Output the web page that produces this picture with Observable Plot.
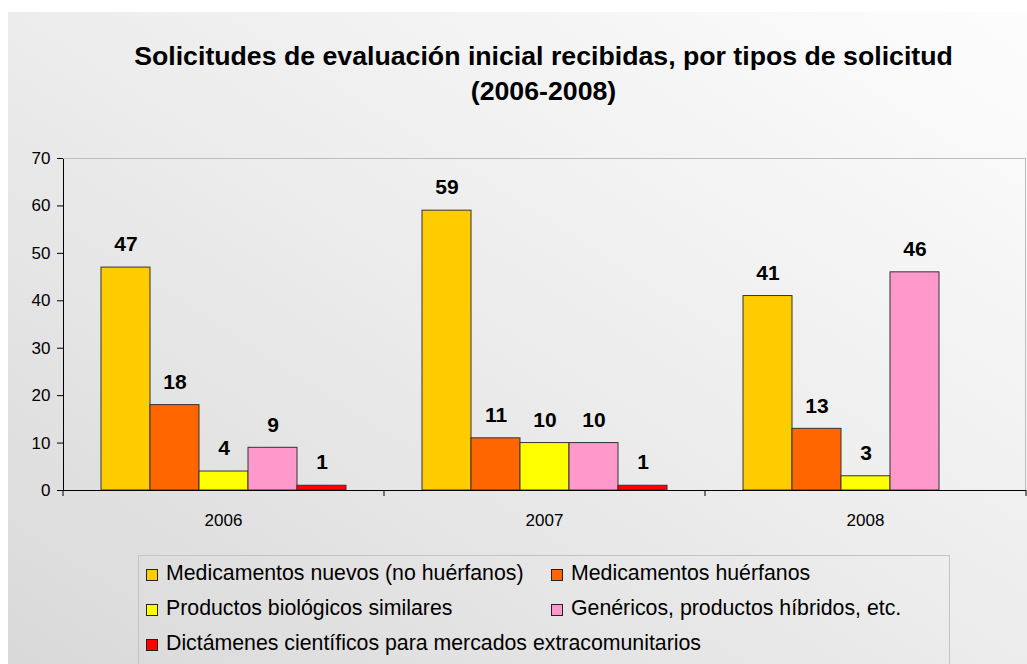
<!DOCTYPE html>
<html>
<head>
<meta charset="utf-8">
<script src="https://cdn.jsdelivr.net/npm/d3@7"></script>
<script src="https://cdn.jsdelivr.net/npm/@observablehq/plot@0.6"></script>
<style>
  html, body { margin: 0; padding: 0; background: #fff; }
  #wrap { position: relative; width: 1027px; height: 664px; overflow: hidden; background: #fff; font-family: "Liberation Sans", Arial, sans-serif; }
  #bg { position: absolute; left: 8px; top: 12px; width: 1019px; height: 652px; background: linear-gradient(to bottom left, #fdfdfd 0%, #ececec 50%, #d9d9d9 100%); }
  #title { position: absolute; left: 0px; width: 1087px; top: 39px; text-align: center; font-weight: bold; font-size: 26.7px; line-height: 35px; color: #000; }
  #chart { position: absolute; left: 0; top: 140px; }
  #legend { position: absolute; left: 138px; top: 555px; width: 812px; height: 140px; border: 1px solid #c3c3c3; box-sizing: border-box; }
  .item { position: absolute; font-size: 21.3px; line-height: 20px; color: #000; white-space: nowrap; }
  .sw { position: absolute; width: 10px; height: 10px; border: 1px solid #222; top: 6px; left: 0; }
  .lab { position: absolute; left: 20px; top: 0; }
</style>
</head>
<body>
<div id="wrap">
  <div id="bg"></div>
  <div id="title">Solicitudes de evaluación inicial recibidas, por tipos de solicitud<br>(2006-2008)</div>
  <div id="chart"></div>
  <div id="legend"></div>
</div>
<script>
const years = ["2006", "2007", "2008"];
const series = [
  "Medicamentos nuevos (no huérfanos)",
  "Medicamentos huérfanos",
  "Productos biológicos similares",
  "Genéricos, productos híbridos, etc.",
  "Dictámenes científicos para mercados extracomunitarios"
];
const colors = ["#FFCC00", "#FF6600", "#FFFF00", "#FF99CC", "#FF0000"];
const values2006 = [47, 18, 4, 9, 1];
const values2007 = [59, 11, 10, 10, 1];
const values2008 = [41, 13, 3, 46, null];
const yTicks = [0, 10, 20, 30, 40, 50, 60, 70];

const rows = [];
[values2006, values2007, values2008].forEach((vals, i) => {
  vals.forEach((v, j) => { if (v != null) rows.push({year: years[i], series: series[j], value: v}); });
});

const W = 1027, H = 400, mL = 63, mR = 1, mT = 18, mB = 50;

const plot = Plot.plot({
  width: W, height: H,
  marginLeft: mL, marginRight: mR, marginTop: mT, marginBottom: mB,
  style: {background: "transparent", fontFamily: "'Liberation Sans', Arial, sans-serif", fontSize: "17px", color: "#000", overflow: "visible"},
  fx: {domain: years, padding: 0, label: null, axis: null},
  x: {domain: series, paddingInner: 0, paddingOuter: 0.75, axis: null},
  y: {domain: [0, 70], ticks: yTicks, label: null, tickSize: 6, tickPadding: 7, line: true},
  color: {domain: series, range: colors},
  marks: [
    Plot.ruleY([70], {stroke: "#bdbdbd", strokeWidth: 1}),
    Plot.barY(rows, {fx: "year", x: "series", y: "value", fill: "series", stroke: "#333", strokeWidth: 1, inset: 0}),
    Plot.text(rows, {fx: "year", x: "series", y: "value", text: d => String(d.value), dy: -23, fontWeight: "bold", fontSize: 21, fill: "#000"}),
    Plot.ruleY([0], {stroke: "#000", strokeWidth: 1.2})
  ]
});
document.getElementById("chart").appendChild(plot);

// Category boundary ticks, year labels and right border from the library's scales
const fx = plot.scale("fx");
const y = plot.scale("y");
const svg = d3.select(plot);
const y0 = y.apply(0), y70 = y.apply(70);
const bounds = years.map(yr => fx.apply(yr)).concat([fx.apply(years[years.length - 1]) + fx.bandwidth]);
const g = svg.append("g");
g.selectAll("line.b").data(bounds).join("line")
  .attr("x1", d => d).attr("x2", d => d).attr("y1", y0).attr("y2", y0 + 6)
  .attr("stroke", "#000");
g.append("line").attr("x1", W - mR - 0.5).attr("x2", W - mR - 0.5).attr("y1", y70).attr("y2", y0).attr("stroke", "#bdbdbd");
g.selectAll("text.yr").data(years).join("text")
  .attr("x", d => fx.apply(d) + fx.bandwidth / 2).attr("y", y0 + 36)
  .attr("text-anchor", "middle").attr("font-size", 17).attr("fill", "#000")
  .text(d => d);

// Legend
const legendPos = [
  [146, 563], [551, 563], [146, 598], [551, 598], [146, 633]
];
const wrap = d3.select("#wrap");
series.forEach((s, i) => {
  const it = wrap.append("div").attr("class", "item")
    .style("left", legendPos[i][0] + "px").style("top", legendPos[i][1] + "px");
  it.append("div").attr("class", "sw").style("background", colors[i]);
  it.append("span").attr("class", "lab").text(s);
});
</script>
</body>
</html>
